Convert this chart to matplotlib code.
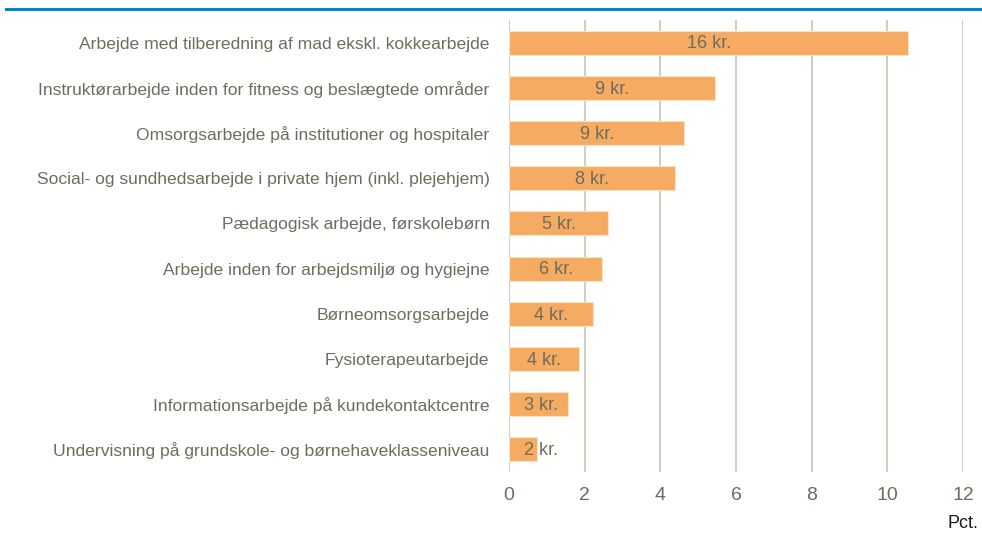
import matplotlib.pyplot as plt
from matplotlib.lines import Line2D

plt.rcParams['font.family'] = ['Liberation Sans', 'DejaVu Sans']

categories = [
    "Arbejde med tilberedning af mad ekskl. kokkearbejde",
    "Instruktørarbejde inden for fitness og beslægtede områder",
    "Omsorgsarbejde på institutioner og hospitaler",
    "Social- og sundhedsarbejde i private hjem (inkl. plejehjem)",
    "Pædagogisk arbejde, førskolebørn",
    "Arbejde inden for arbejdsmiljø og hygiejne",
    "Børneomsorgsarbejde",
    "Fysioterapeutarbejde",
    "Informationsarbejde på kundekontaktcentre",
    "Undervisning på grundskole- og børnehaveklasseniveau",
]
values = [10.55, 5.45, 4.63, 4.39, 2.62, 2.47, 2.22, 1.85, 1.57, 0.73]
bar_labels = ["16 kr.", "9 kr.", "9 kr.", "8 kr.", "5 kr.", "6 kr.", "4 kr.", "4 kr.", "3 kr.", "2 kr."]
xticks = [0, 2, 4, 6, 8, 10, 12]

text_col = "#6d6d5d"
bar_col = "#f5ab61"
grid_col = "#cfcfc4"
fs = 12.6

fig = plt.figure(figsize=(9.82, 5.35), dpi=100)
ax = fig.add_axes([509 / 982, 1 - 472 / 535, 454 / 982, 452 / 535])

ypos = list(range(len(categories)))
ax.barh(ypos, values, height=0.53, color=bar_col, edgecolor="#fbe3c8", linewidth=0.8, zorder=2)

for y, v, lab in zip(ypos, values, bar_labels):
    ax.text(max(v / 2, 0.85), y + 0.03, lab, ha="center", va="center", fontsize=13,
            color=text_col, zorder=3)

ax.set_xlim(0, 12)
ax.set_ylim(9.5, -0.5)
ax.set_xticks(xticks)
ax.set_xticklabels([str(t) for t in xticks])
ax.set_yticks(ypos)
ax.set_yticklabels(categories)
ax.tick_params(axis="both", length=0, labelsize=fs, labelcolor=text_col)
ax.tick_params(axis="x", pad=11, labelsize=14)
ax.tick_params(axis="y", pad=14)
ax.xaxis.grid(True, color=grid_col, linewidth=1.5, zorder=0)
ax.set_axisbelow(True)
for s in ax.spines.values():
    s.set_visible(False)

fig.text(963 / 982, 1 - 524 / 535, "Pct.", ha="center", va="center", fontsize=13, color="#1a1a1a")
fig.add_artist(Line2D([6 / 982, 1], [1 - 8.5 / 535] * 2, color="#0088c6", linewidth=2.2,
                      transform=fig.transFigure))

fig.savefig("out.png", dpi=100)
